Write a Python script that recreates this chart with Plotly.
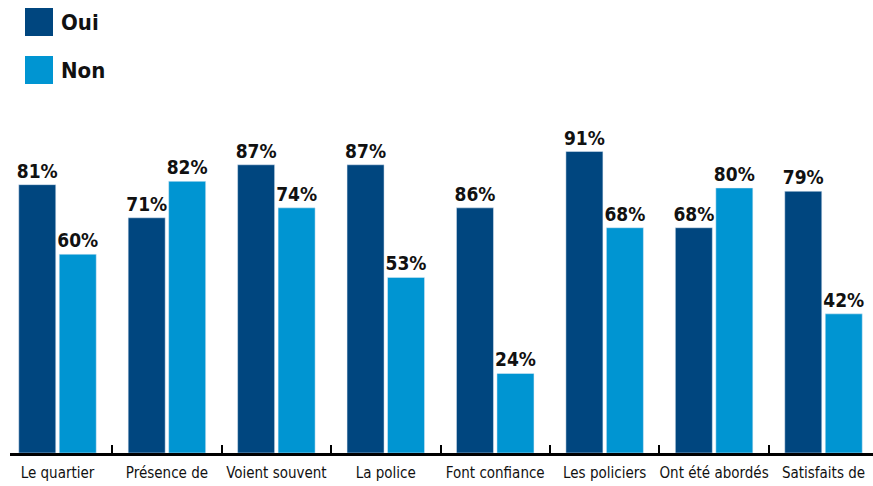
import plotly.graph_objects as go

categories = ["Le quartier", "Présence de", "Voient souvent", "La police",
              "Font confiance", "Les policiers", "Ont été abordés", "Satisfaits de"]
oui_values = [81, 71, 87, 87, 74, 91, 68, 79]
non_values = [60, 82, 74, 53, 24, 68, 80, 42]
oui_labels = ["81%", "71%", "87%", "87%", "86%", "91%", "68%", "79%"]
non_labels = ["60%", "82%", "74%", "53%", "24%", "68%", "80%", "42%"]

OUI_COLOR = "#00467F"
NON_COLOR = "#0095D2"
FONT = "DejaVu Sans Condensed, Liberation Sans Narrow, Roboto, sans-serif"

fig = go.Figure()
fig.add_trace(go.Bar(name="Oui", x=categories, y=oui_values, marker_color=OUI_COLOR,
                     text=oui_labels, textposition="outside", cliponaxis=False,
                     constraintext="none",
                     textfont=dict(family=FONT, size=19, color="#111111", weight="bold")))
fig.add_trace(go.Bar(name="Non", x=categories, y=non_values, marker_color=NON_COLOR,
                     text=non_labels, textposition="outside", cliponaxis=False,
                     constraintext="none",
                     textfont=dict(family=FONT, size=19, color="#111111", weight="bold")))

W, H = 873, 486
L, R, T, B = 10, 0, 100, 33
plot_w = W - L - R
plot_h = H - T - B
px_per_pct = 3.313
spacing = 109.43
r0 = -(57.5 - L) / spacing
r1 = r0 + plot_w / spacing

def px(x):
    return (x - L) / plot_w

def py(y):
    return (H - B - y) / plot_h

shapes = [
    dict(type="rect", xref="paper", yref="paper", x0=px(25), x1=px(53), y0=py(36), y1=py(8),
         fillcolor=OUI_COLOR, line=dict(width=0)),
    dict(type="rect", xref="paper", yref="paper", x0=px(25), x1=px(53), y0=py(84), y1=py(56),
         fillcolor=NON_COLOR, line=dict(width=0)),
]
annotations = [
    dict(text="<b>Oui</b>", xref="paper", yref="paper", x=px(59), y=py(22), xanchor="left",
         yanchor="middle", showarrow=False, font=dict(family=FONT, size=22, color="#111111")),
    dict(text="<b>Non</b>", xref="paper", yref="paper", x=px(59), y=py(70), xanchor="left",
         yanchor="middle", showarrow=False, font=dict(family=FONT, size=22, color="#111111")),
]

fig.update_layout(
    width=W, height=H,
    margin=dict(l=L, r=R, t=T, b=B, pad=0),
    paper_bgcolor="white", plot_bgcolor="white",
    barmode="group", bargap=0.26, bargroupgap=0.086,
    showlegend=False,
    shapes=shapes, annotations=annotations,
)
fig.update_xaxes(
    range=[r0, r1], showline=True, linecolor="black", linewidth=2.5,
    tickson="boundaries", ticks="inside", ticklen=8, tickwidth=2, tickcolor="black",
    tickangle=0, automargin=False, ticklabelstandoff=4,
    tickfont=dict(family=FONT, size=15, color="#111111"), showgrid=False, zeroline=False,
)
fig.update_yaxes(range=[0, plot_h / px_per_pct], visible=False, showgrid=False,
                 zeroline=False, automargin=False)

fig.write_html("out.html")
